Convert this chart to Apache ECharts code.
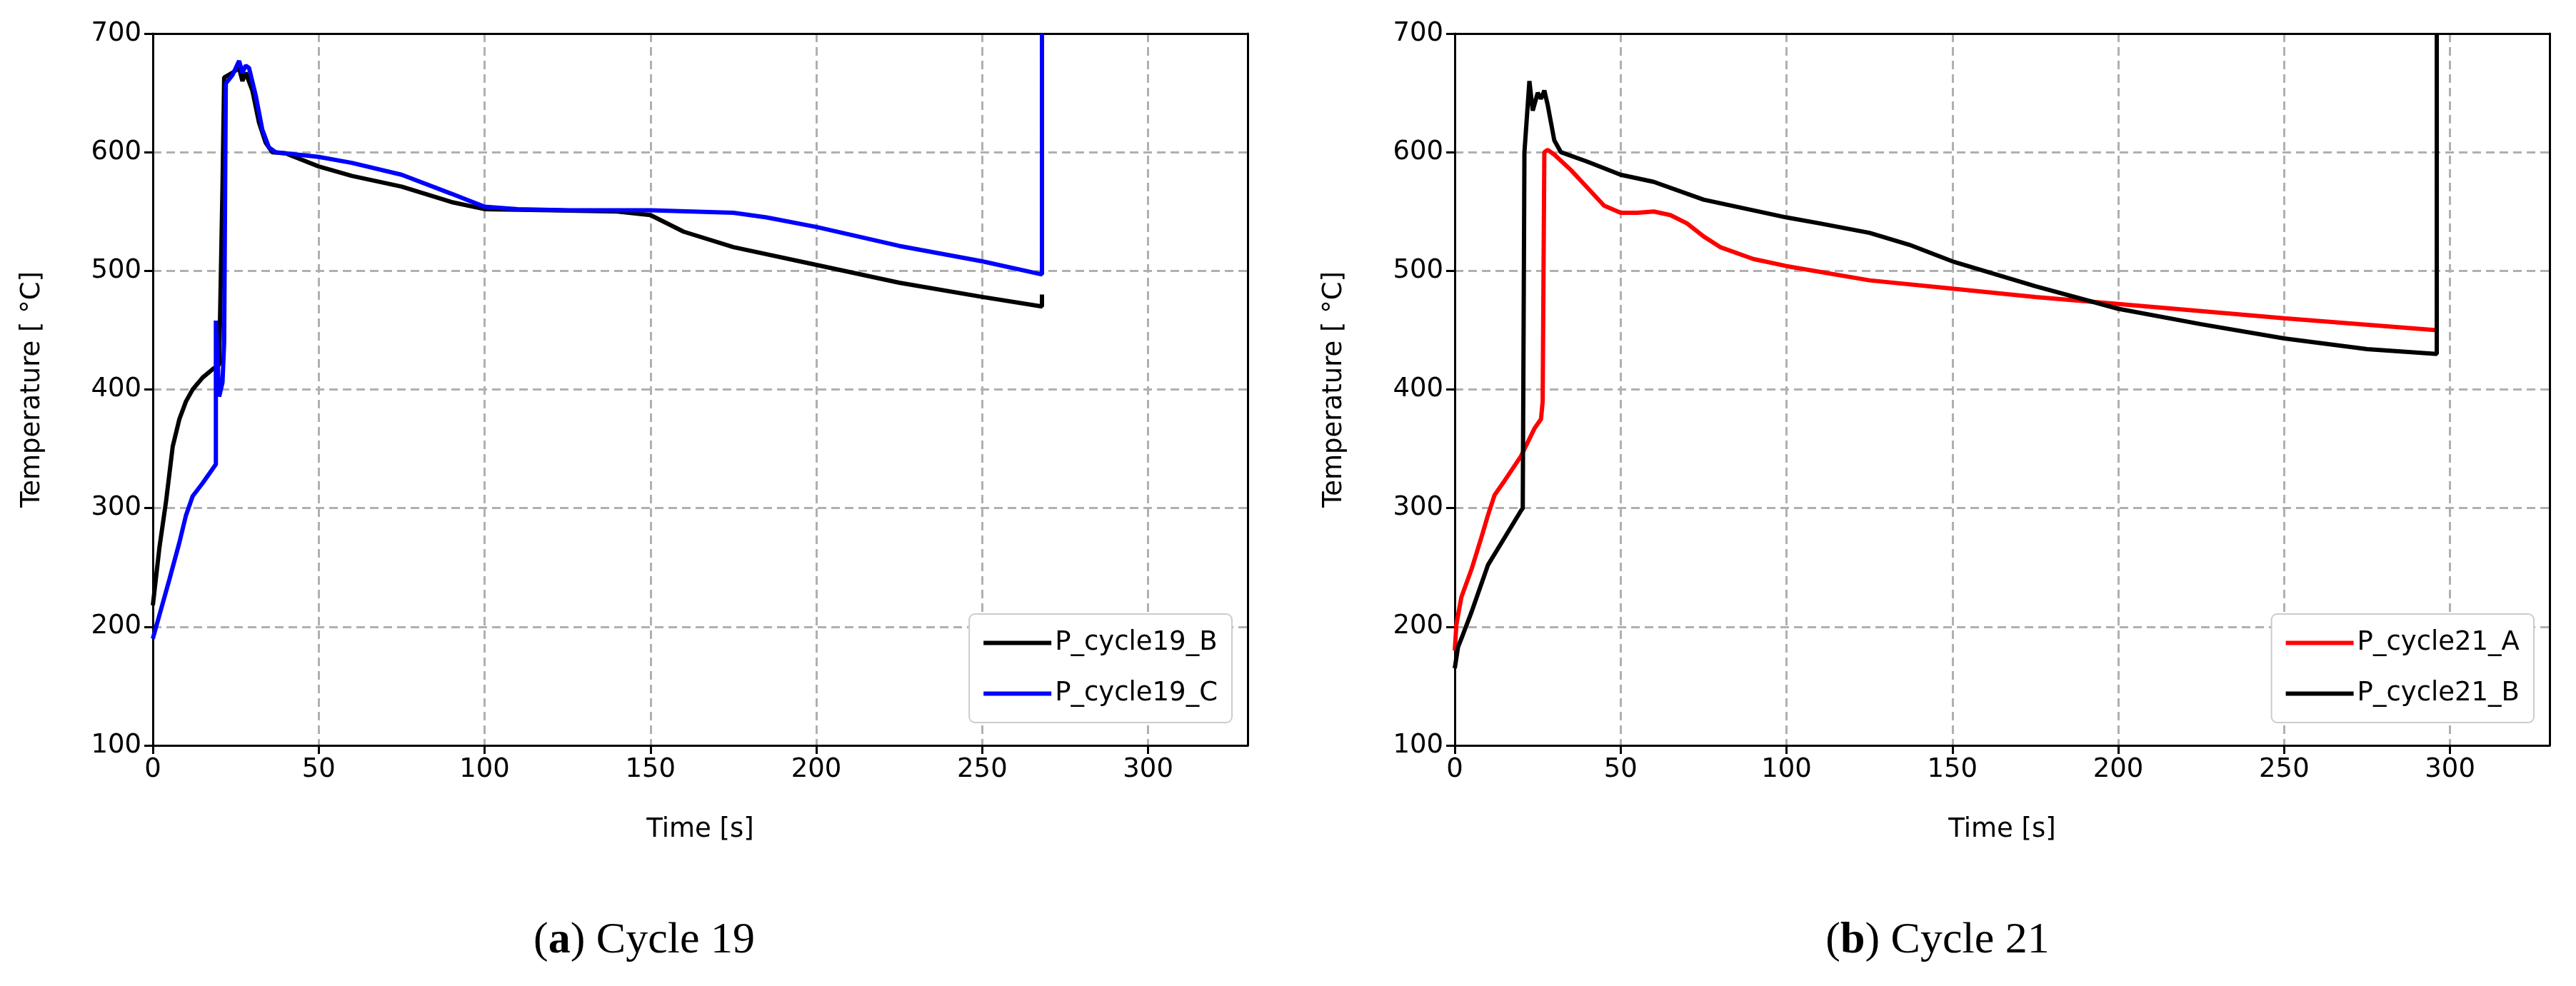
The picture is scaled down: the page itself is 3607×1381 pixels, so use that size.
<!DOCTYPE html>
<html><head><meta charset="utf-8">
<script src="https://cdn.jsdelivr.net/npm/echarts@6/dist/echarts.min.js"></script>
<style>html,body{margin:0;padding:0;background:#fff}#c{width:3607px;height:1381px}</style>
</head><body><div id="c"></div>
<script>
const xTicks = [0,50,100,150,200,250,300];
const yTicks = [100,200,300,400,500,600,700];
const t19B = [0,2,4,6,8,10,12,15,18,20,21,21.5,24,26,27,28,30,32,34,36,40,50,60,75,90,100,120,140,150,160,175,200,225,250,268,268];
const v19B = [218,267,306,352,375,390,400,410,417,421,571,663,667,671,660,667,652,625,608,600,599,588,580,571,558,552,551,550,547,533,520,505,490,478,470,480];
const t19C = [0,2,5,8,10,12,15,19,19,20,21,21.5,22,24,26,27,28,29,31,33,35,37,50,60,75,90,100,110,125,150,175,185,200,225,250,268,268];
const v19C = [190,210,240,271,294,310,321,337,458,394,406,440,658,665,677,667,673,671,648,619,604,600,596,591,581,565,554,552,551,551,549,545,537,521,508,497,700];
const t21A = [0,0.5,2,5,8,10,12,15,20,24,26,26.5,27,28,30,35,40,45,50,55,60,65,70,75,80,90,100,125,150,175,200,250,296];
const v21A = [180,202,225,248,275,294,311,323,344,367,375,390,600,602,598,585,570,555,549,549,550,547,540,529,520,510,504,492,485,478,472,460,450];
const t21B = [0,1,2,5,10,15,20,20.5,21,22.5,23.5,25,26,27,28,30,32,40,50,60,75,90,100,110,125,137,150,175,200,225,250,275,296,296];
const v21B = [165,183,190,212,252,275,298,300,600,660,635,650,645,652,640,610,600,592,581,575,560,551,545,540,532,522,508,487,468,455,443,434,430,700];
const pairs = (t,v)=>t.map((x,i)=>[x,v[i]]);
const F='DejaVu Sans';
function grid(left,right){return {left,right,top:47,height:997,show:false,containLabel:false};}
const split={showMaxLine:false,showMinLine:false,lineStyle:{color:'#b0b0b0',type:[12,7],width:3}};
function xA(i){return {type:'value',gridIndex:i,min:0,max:330,interval:50,name:'Time [s]',nameLocation:'middle',nameGap:100,
 nameTextStyle:{fontFamily:F,fontSize:37,color:'#000'},
 axisLine:{lineStyle:{color:'#000',width:3}},axisTick:{length:12,lineStyle:{color:'#000',width:3}},
 axisLabel:{fontFamily:F,fontSize:37,color:'#000',margin:16,showMaxLabel:false,formatter:v=>xTicks.includes(v)?String(v):''},
 splitLine:split};}
function yA(i){return {type:'value',gridIndex:i,min:100,max:700,interval:100,name:'Temperature [ °C]',nameLocation:'middle',nameGap:150,
 nameTextStyle:{fontFamily:F,fontSize:37,color:'#000'},
 axisLine:{lineStyle:{color:'#000',width:3}},axisTick:{length:12,lineStyle:{color:'#000',width:3}},
 axisLabel:{fontFamily:F,fontSize:37,color:'#000',margin:16,formatter:v=>yTicks.includes(v)?String(v):''},
 splitLine:split};}
function xTop(i){return {type:'value',gridIndex:i,position:'top',min:0,max:330,axisLine:{onZero:false,lineStyle:{color:'#000',width:3}},axisTick:{show:false},axisLabel:{show:false},splitLine:{show:false}};}
function yRight(i){return {type:'value',gridIndex:i,position:'right',min:100,max:700,axisLine:{show:true,onZero:false,lineStyle:{color:'#000',width:3}},axisTick:{show:false},axisLabel:{show:false},splitLine:{show:false}};}
function ser(name,t,v,color,i){return {name,type:'line',xAxisIndex:i,yAxisIndex:i,data:pairs(t,v),showSymbol:false,
 lineStyle:{color,width:6},itemStyle:{color},clip:true,z:i===0&&name.endsWith('C')?3:2};}
function leg(names,right){return {orient:'vertical',right,bottom:369,data:names,itemWidth:95,itemHeight:6,itemGap:34,
 icon:'rect',textStyle:{fontFamily:F,fontSize:37,color:'#000'},backgroundColor:'#fff',borderColor:'#ccc',borderWidth:2,borderRadius:8,padding:[22,20,22,20]};}
const cap={fontFamily:'Liberation Serif',fontSize:62,fontWeight:'normal',color:'#000',rich:{b:{fontFamily:'Liberation Serif',fontSize:62,fontWeight:'bold'}}};
const chart=echarts.init(document.getElementById('c'));
chart.setOption({
 animation:false,
 grid:[grid(214,1860),grid(2037,37)],
 xAxis:[xA(0),xA(1),xTop(0),xTop(1)],yAxis:[yA(0),yA(1),yRight(0),yRight(1)],
 legend:[leg(['P_cycle19_B','P_cycle19_C'],1882),leg(['P_cycle21_A','P_cycle21_B'],59)],
 title:[
  {text:'({b|a}) Cycle 19',left:897,top:1282,textAlign:'center',textStyle:cap},
  {text:'({b|b}) Cycle 21',left:2708,top:1282,textAlign:'center',textStyle:cap}
 ],
 series:[ser('P_cycle19_B',t19B,v19B,'#000',0),ser('P_cycle19_C',t19C,v19C,'#0000ff',0),
  ser('P_cycle21_A',t21A,v21A,'#ff0000',1),ser('P_cycle21_B',t21B,v21B,'#000',1)]
});
</script></body></html>
